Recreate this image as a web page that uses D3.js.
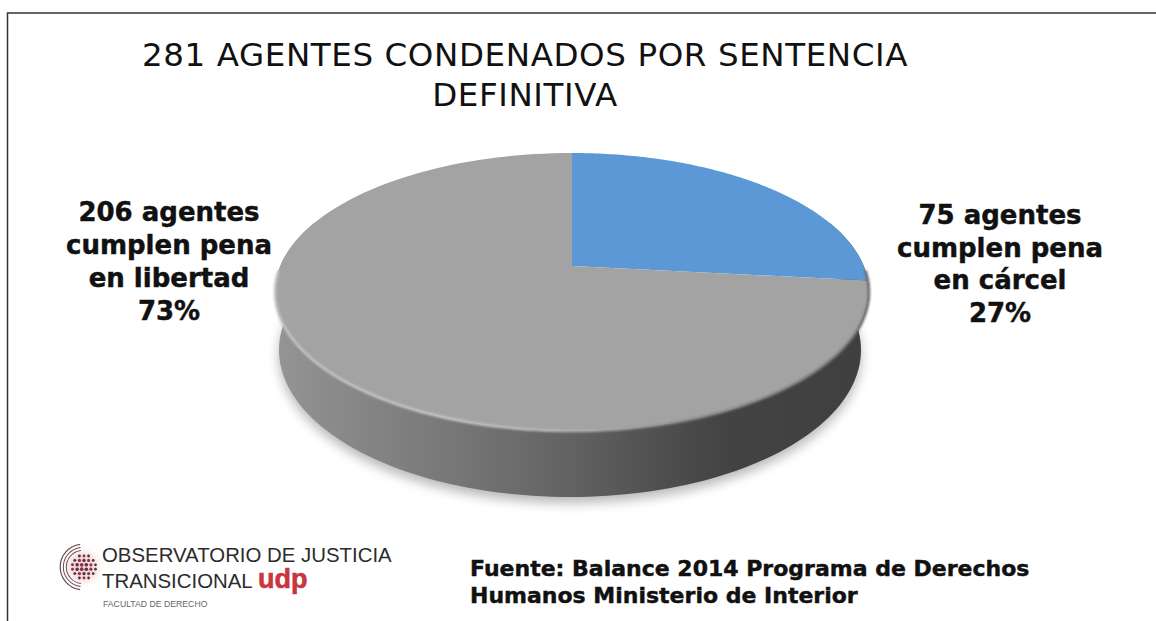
<!DOCTYPE html>
<html lang="es">
<head>
<meta charset="utf-8">
<script src="https://cdn.jsdelivr.net/npm/d3@7/dist/d3.min.js"></script>
<style>
  html, body { margin: 0; padding: 0; background: #fff; overflow: hidden; }
  svg { display: block; }
</style>
</head>
<body>
<svg id="chart" width="1156" height="621"></svg>
<script>
// Sentenced agents by how the sentence is served
const categories = ["cárcel", "libertad"];
const agents = [75, 206];
const sliceColors = ["#5b98d5", "#a3a3a3"];

const titleLines = ["281 AGENTES CONDENADOS POR SENTENCIA", "DEFINITIVA"];
const leftLabel = ["206 agentes", "cumplen pena", "en libertad", "73%"];
const rightLabel = ["75 agentes", "cumplen pena", "en cárcel", "27%"];
const sourceLines = ["Fuente: Balance 2014 Programa de Derechos", "Humanos Ministerio de Interior"];
const logoLines = ["OBSERVATORIO DE JUSTICIA", "TRANSICIONAL"];

const svg = d3.select("#chart");
const defs = svg.append("defs");

// Perspective tilt of the disc: circle coordinates on the top face → screen
const disc = { cx: 572, cy: 292, rx: 297, ry: 139, tilt: -0.187 };
function project(u, v) {
  const w = 1 + disc.tilt * v;
  return [
    disc.cx + disc.rx * u * Math.sqrt(1 - disc.tilt * disc.tilt) / w,
    disc.cy + disc.ry * (v + disc.tilt) / w
  ];
}
const polar = a => [Math.sin(a), -Math.cos(a)];

// Slices from d3.pie, clockwise from twelve o'clock
const pie = d3.pie().sort(null).value(d => d)(agents);
const line = d3.line();

function slicePath(s) {
  const pts = [project(0, 0)];
  d3.range(0, 121).forEach(i => {
    const a = s.startAngle + (s.endAngle - s.startAngle) * i / 120;
    pts.push(project(...polar(a)));
  });
  return line(pts) + "Z";
}

// Side wall: the front of the rim, dropped to a slightly narrower, deeper base ellipse
const base = { cx: 570, cy: 350, rx: 291, ry: 147 };
const sweep = 0.35;
const rimAngles = d3.range(0, 121).map(i => Math.PI / 2 - sweep + (Math.PI + 2 * sweep) * i / 120);
const rimPts = rimAngles.map(a => project(...polar(a)));
const basePts = rimAngles.map(a => {
  const [u, v] = polar(a);
  return [base.cx + base.rx * u, base.cy + base.ry * v];
});

const wallGrad = defs.append("linearGradient")
  .attr("id", "wallGrad").attr("gradientUnits", "userSpaceOnUse")
  .attr("x1", disc.cx - disc.rx).attr("x2", disc.cx + disc.rx)
  .attr("y1", 0).attr("y2", 0);
[[0, "#959595"], [0.09, "#8b8b8b"], [0.3, "#777"], [0.5, "#626262"], [0.66, "#4e4e4e"], [0.76, "#434343"], [1, "#3f3f3f"]]
  .forEach(([o, c]) => wallGrad.append("stop").attr("offset", o).attr("stop-color", c));

const rimGrad = defs.append("linearGradient")
  .attr("id", "rimGrad").attr("gradientUnits", "userSpaceOnUse")
  .attr("x1", disc.cx - disc.rx).attr("x2", disc.cx + disc.rx)
  .attr("y1", 0).attr("y2", 0);
[[0, "#c4c4c4"], [0.3, "#c8c8c8"], [0.5, "#b0b0b0"], [0.7, "#8a8a8a"], [1, "#6a6a6a"]]
  .forEach(([o, c]) => rimGrad.append("stop").attr("offset", o).attr("stop-color", c));

defs.append("filter").attr("id", "shadowBlur")
  .attr("x", "-10%").attr("y", "-10%").attr("width", "120%").attr("height", "120%")
  .append("feGaussianBlur").attr("stdDeviation", 6);
defs.append("filter").attr("id", "rimBlur")
  .attr("filterUnits", "userSpaceOnUse")
  .attr("x", 200).attr("y", 200).attr("width", 760).attr("height", 300)
  .append("feGaussianBlur").attr("stdDeviation", 1.1);
defs.append("filter").attr("id", "logoGlow")
  .attr("x", "-30%").attr("y", "-30%").attr("width", "160%").attr("height", "160%")
  .append("feGaussianBlur").attr("stdDeviation", 0.5);
defs.append("filter").attr("id", "haloBlur")
  .attr("x", "-40%").attr("y", "-40%").attr("width", "180%").attr("height", "180%")
  .append("feGaussianBlur").attr("stdDeviation", 3);

// Frame: top and left rules
svg.append("path")
  .attr("d", line([[7.5, 621], [7.5, 13], [1156, 13]]))
  .attr("fill", "none").attr("stroke", "#333").attr("stroke-width", 1.5);

// Soft drop shadow under the disc
svg.append("path")
  .attr("d", line(basePts.map(([x, y]) => [x, y + 6])) + "Z")
  .attr("fill", "#000").attr("opacity", 0.28).attr("filter", "url(#shadowBlur)");

// Side wall
svg.append("path")
  .attr("d", line(rimPts.concat(basePts.slice().reverse())) + "Z")
  .attr("fill", "url(#wallGrad)");

// Top face slices
const topFace = svg.append("g");
topFace.selectAll("path").data(pie).join("path")
  .attr("d", slicePath)
  .attr("fill", (d, i) => sliceColors[i])
  .attr("data-category", (d, i) => categories[i]);

// Bevel highlight along the front edge of the top face
svg.append("path")
  .attr("d", line(rimPts.slice(12, 109)))
  .attr("fill", "none").attr("stroke", "url(#rimGrad)")
  .attr("stroke-width", 2.6).attr("filter", "url(#rimBlur)");

// Text
const addLines = (lines, x, y0, lh, font, size, weight, anchor, fill, extra) => {
  lines.forEach((t, i) => {
    const node = svg.append("text").text(t)
      .attr("x", x).attr("y", y0 + i * lh)
      .attr("text-anchor", anchor)
      .attr("font-family", font).attr("font-size", size)
      .attr("font-weight", weight).attr("fill", fill || "#111");
    if (extra) extra(node);
  });
};
const heavier = node => node.attr("stroke", "#111").attr("stroke-width", 0.45);
addLines(titleLines, 525, 66, 39.5, "'DejaVu Sans'", 32.5, 400, "middle", "#111", n => n.attr("letter-spacing", 0.6));
addLines(leftLabel, 169, 221, 33, "'DejaVu Sans'", 26, 700, "middle", "#111", heavier);
addLines(rightLabel, 1000, 224, 32.5, "'DejaVu Sans'", 26, 700, "middle", "#111", heavier);
addLines(sourceLines, 470, 576, 27, "'DejaVu Sans'", 22, 700, "start", "#111", heavier);

// Institutional mark: open arcs around a globe of dots
const logo = svg.append("g").attr("transform", "translate(83,567)");
logo.append("circle").attr("r", 15).attr("fill", "#e9b9bf").attr("opacity", 0.55).attr("filter", "url(#haloBlur)");
const arc = d3.arc();
[[16.2, 17.2], [19.2, 20.2], [22.2, 23.4]].forEach(([r0, r1]) => {
  logo.append("path")
    .attr("d", arc({ innerRadius: r0, outerRadius: r1, startAngle: Math.PI * 1.04, endAngle: Math.PI * 1.96 }))
    .attr("fill", "#6a4a50");
});
const dotRows = [[-11, 3], [-6.6, 5], [-2.2, 6], [2.2, 6], [6.6, 5], [11, 3]];
const logoDots = logo.append("g").attr("filter", "url(#logoGlow)");
dotRows.forEach(([y, n]) => {
  d3.range(n).forEach(i => {
    const x = (i - (n - 1) / 2) * 4.6 + 1;
    logoDots.append("circle")
      .attr("cx", x).attr("cy", y)
      .attr("r", 2 - Math.hypot(x, y) * 0.05)
      .attr("fill", (i + n) % 2 ? "#5a2e38" : "#8a3442");
  });
});
addLines(logoLines, 102, 562, 26, "'Liberation Sans'", 20.4, 400, "start", "#2c2c2c");
svg.append("text").text("udp")
  .attr("x", 258).attr("y", 588)
  .attr("font-family", "'Liberation Sans'").attr("font-size", 27)
  .attr("font-weight", 700).attr("fill", "#c8363f")
  .attr("stroke", "#c8363f").attr("stroke-width", 0.6);
svg.append("text").text("FACULTAD DE DERECHO")
  .attr("x", 103).attr("y", 607)
  .attr("font-family", "'Liberation Sans'").attr("font-size", 8.7).attr("fill", "#666");
</script>
</body>
</html>
